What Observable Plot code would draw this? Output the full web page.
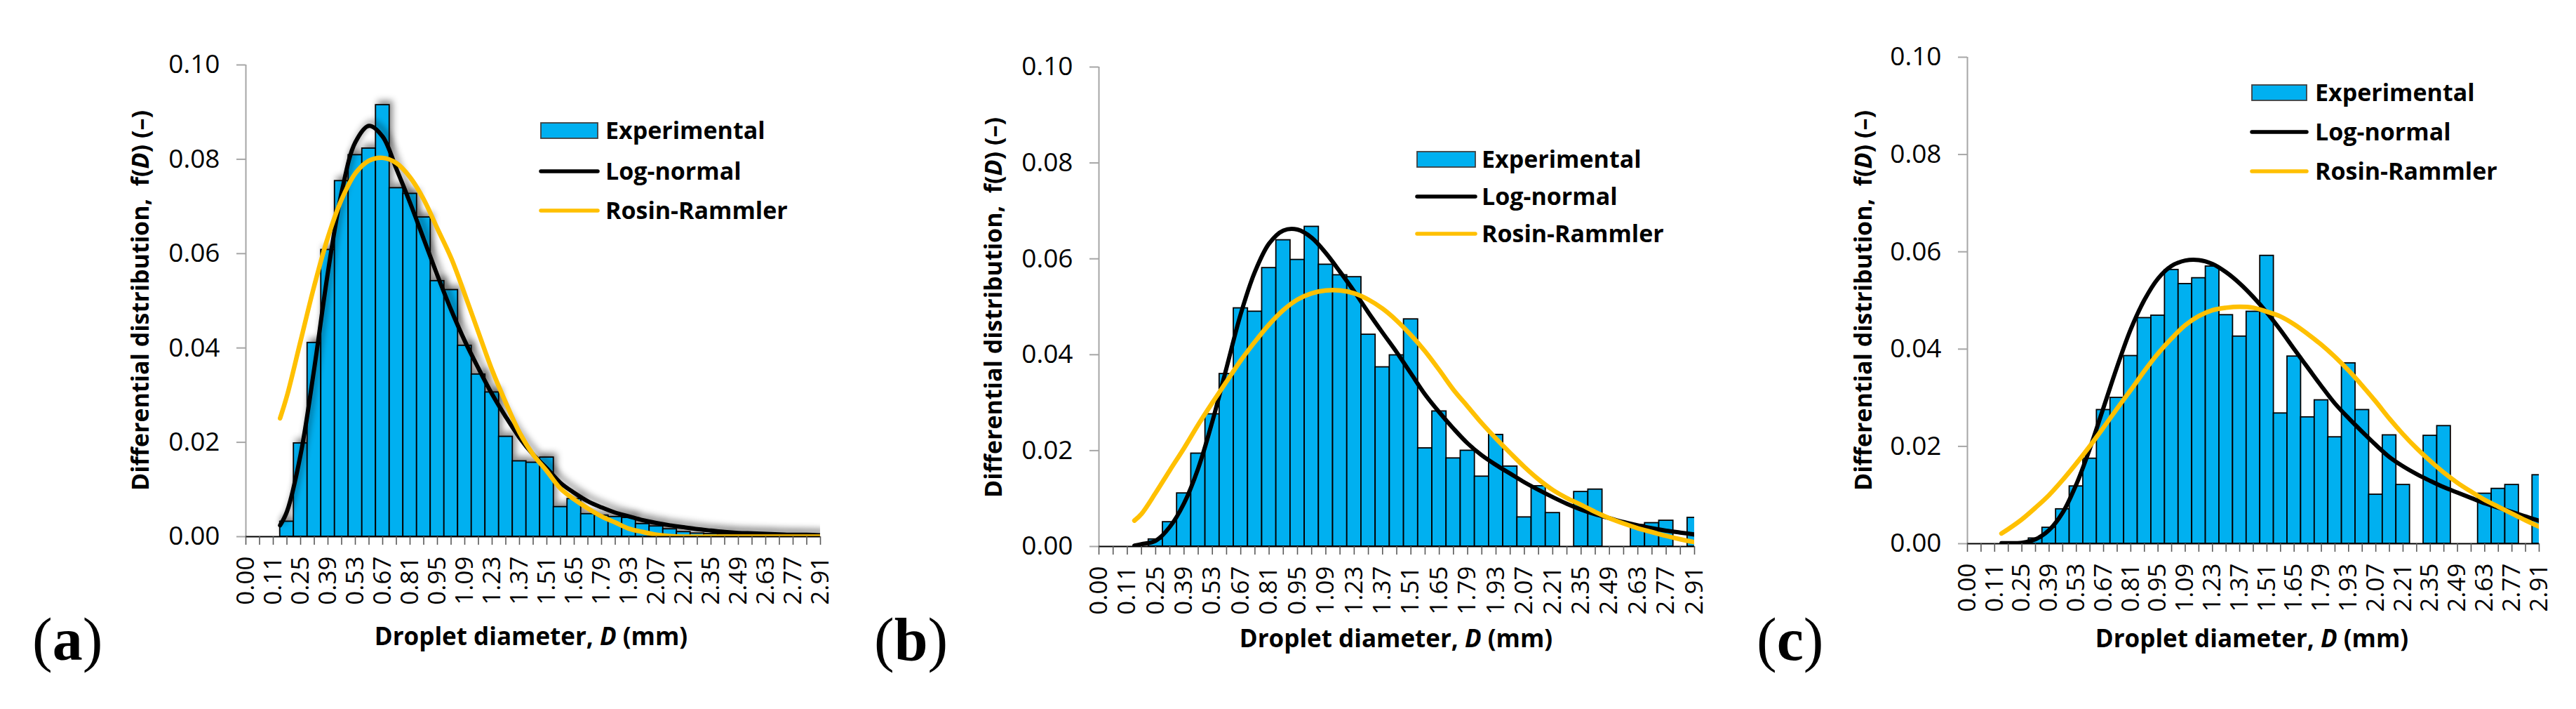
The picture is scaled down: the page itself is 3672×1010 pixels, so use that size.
<!DOCTYPE html>
<html>
<head>
<meta charset="utf-8">
<script src="https://cdn.jsdelivr.net/npm/d3@7"></script>
<script src="https://cdn.jsdelivr.net/npm/@observablehq/plot@0.6"></script>
<style>
html,body{margin:0;padding:0;background:#fff;}
#fig{position:relative;width:3672px;height:1010px;overflow:hidden;background:#fff;}
#fig > svg{position:absolute;top:0;}
</style>
</head>
<body>
<div id="fig"></div>
<script>
// ---------- data ----------
const categories = ["0.00","0.04","0.11","0.18","0.25","0.32","0.39","0.46","0.53","0.60","0.67","0.74","0.81","0.88","0.95","1.02","1.09","1.16","1.23","1.30","1.37","1.44","1.51","1.58","1.65","1.72","1.79","1.86","1.93","2.00","2.07","2.14","2.21","2.28","2.35","2.42","2.49","2.56","2.63","2.70","2.77","2.84","2.91"];
const yTicks = [0, 0.02, 0.04, 0.06, 0.08, 0.10];
const seriesNames = ["Experimental", "Log-normal", "Rosin-Rammler"];
const panelLetters = ["a", "b", "c"];

// Experimental differential distribution (one value per category)
const expA = [0,0,0,0.0032,0.0198,0.0411,0.0608,0.0754,0.0809,0.0823,0.0915,0.0739,0.0727,0.0677,0.0542,0.0523,0.0405,0.0344,0.0306,0.0212,0.0160,0.0157,0.0168,0.0063,0.0080,0.0048,0.0045,0.0042,0.0040,0.0027,0.0022,0.0016,0.0010,0.0007,0.0006,0.0005,0.0004,0.0003,0.0003,0.0002,0.0002,0.0001,0.0001];
const expB = [0,0,0,0,0.0015,0.0051,0.0111,0.0194,0.0276,0.0360,0.0497,0.0490,0.0581,0.0639,0.0598,0.0667,0.0588,0.0566,0.0562,0.0442,0.0374,0.0399,0.0474,0.0205,0.0282,0.0184,0.0200,0.0146,0.0233,0.0167,0.0061,0.0126,0.0070,0,0.0114,0.0119,0,0,0.0045,0.0049,0.0054,0,0.0060];
const expC = [0,0,0,0,0,0.0011,0.0033,0.0071,0.0118,0.0175,0.0275,0.0300,0.0386,0.0464,0.0469,0.0563,0.0534,0.0546,0.0570,0.0470,0.0426,0.0477,0.0592,0.0268,0.0385,0.0260,0.0295,0.0219,0.0371,0.0275,0.0101,0.0223,0.0121,0,0.0222,0.0242,0,0,0.0103,0.0113,0.0121,0,0.0141];

// Fitted curves: first value at the curve start (half a category after 0.11), then one value per category from 0.18 to 2.91
const curveStart = 2.5;
const lnA = [0.0024,0.0053,0.0174,0.0357,0.0561,0.0730,0.0836,0.0871,0.0848,0.0780,0.0708,0.0631,0.0554,0.0481,0.0415,0.0357,0.0302,0.0254,0.0210,0.0174,0.0145,0.0114,0.0093,0.0075,0.0062,0.0051,0.0043,0.0035,0.0029,0.0024,0.0020,0.0016,0.0013,0.0010,0.0008,0.0007,0.0006,0.0005,0.0004,0.0004,0.0003];
const rrA = [0.0251,0.0298,0.0415,0.0532,0.0635,0.0715,0.0770,0.0797,0.0803,0.0792,0.0762,0.0715,0.0653,0.0591,0.0514,0.0433,0.0353,0.0284,0.0221,0.0174,0.0139,0.0102,0.0079,0.0060,0.0043,0.0030,0.0017,0.0010,0.0004,0.0001,0,0,0,0,0,0,0,0,0,0,0];
const lnB = [0.0002,0.0005,0.0012,0.0041,0.0090,0.0163,0.0261,0.0373,0.0485,0.0573,0.0632,0.0659,0.0661,0.0644,0.0612,0.0573,0.0532,0.0488,0.0446,0.0405,0.0361,0.0317,0.0280,0.0246,0.0215,0.0190,0.0170,0.0152,0.0134,0.0118,0.0103,0.0089,0.0077,0.0067,0.0059,0.0051,0.0044,0.0038,0.0033,0.0029,0.0025];
const rrB = [0.0054,0.0068,0.0112,0.0159,0.0205,0.0254,0.0300,0.0344,0.0388,0.0427,0.0463,0.0493,0.0515,0.0528,0.0534,0.0534,0.0528,0.0515,0.0496,0.0471,0.0441,0.0407,0.0368,0.0327,0.0292,0.0257,0.0225,0.0195,0.0166,0.0140,0.0118,0.0101,0.0087,0.0072,0.0059,0.0048,0.0038,0.0030,0.0022,0.0015,0.0009];
const lnC = [0.0001,0.0001,0.0002,0.0009,0.0028,0.0064,0.0122,0.0196,0.0280,0.0364,0.0441,0.0501,0.0545,0.0571,0.0582,0.0583,0.0575,0.0558,0.0535,0.0507,0.0475,0.0439,0.0400,0.0362,0.0324,0.0288,0.0258,0.0230,0.0203,0.0178,0.0159,0.0143,0.0129,0.0116,0.0105,0.0094,0.0083,0.0074,0.0065,0.0056,0.0047];
const rrC = [0.0021,0.0030,0.0050,0.0074,0.0100,0.0131,0.0165,0.0201,0.0239,0.0278,0.0316,0.0355,0.0391,0.0422,0.0449,0.0468,0.0480,0.0485,0.0487,0.0485,0.0477,0.0467,0.0451,0.0431,0.0409,0.0384,0.0356,0.0325,0.0292,0.0257,0.0225,0.0196,0.0170,0.0146,0.0125,0.0107,0.0090,0.0076,0.0062,0.0048,0.0035];

// ---------- style ----------
const BLUE = "#00B0F0", GOLD = "#FFC000", AXISGRAY = "#A6A6A6";
const FONT = "'Open Sans', Lato, sans-serif";
const SERIF = "'Liberation Serif', 'DejaVu Serif', serif";
const labelIdx = categories.map((c, i) => i).filter(i => i % 2 === 0);
const curvePts = vals => vals.map((v, k) => ({i: k === 0 ? curveStart : k + 2, v}));

const fig = document.getElementById("fig");

function makePanel(cfg) {
  const bars = cfg.exp.map((v, i) => ({i, v})).filter(d => d.v > 0);
  const svg = Plot.plot({
    width: cfg.width, height: 1010,
    marginLeft: cfg.mL, marginRight: cfg.mR, marginTop: cfg.mT, marginBottom: cfg.mB,
    style: {fontFamily: FONT, background: "transparent", color: "black", overflow: "visible"},
    x: {domain: [0, categories.length - 1], axis: null},
    y: {domain: [0, 0.1], axis: null},
    marks: [
      Plot.rect(bars, {x1: d => d.i - 0.5, x2: d => d.i + 0.5, y1: 0, y2: "v", fill: BLUE, stroke: "black", strokeWidth: 1.8, clip: true}),
      Plot.line(curvePts(cfg.ln), {x: "i", y: "v", stroke: "black", strokeWidth: 6, curve: "catmull-rom", clip: true}),
      Plot.line(curvePts(cfg.rr), {x: "i", y: "v", stroke: GOLD, strokeWidth: 6.5, curve: "catmull-rom", clip: true}),
      Plot.ruleX([0], {stroke: AXISGRAY, strokeWidth: 2}),
      Plot.ruleY([0], {stroke: "black", strokeWidth: 1.8}),
      Plot.axisY({ticks: yTicks, tickFormat: d3.format(".2f"), tickSize: 13, tickPadding: 24, fontSize: 37, stroke: AXISGRAY, strokeWidth: 2, fill: "black", label: null}),
      Plot.axisX({ticks: d3.range(categories.length), tickFormat: () => "", tickSize: 12, stroke: "#595959", strokeWidth: 1.6, label: null}),
      Plot.axisX({ticks: labelIdx, tickFormat: i => categories[i], tickSize: 0, tickRotate: -90, tickPadding: 28, fontSize: 35, fill: "black", label: null})
    ]
  });
  svg.style.left = cfg.left + "px";
  fig.appendChild(svg);
  if (cfg.shadow) {
    const s = d3.select(svg);
    const id = "shadow-" + cfg.letter;
    s.insert("defs", ":first-child").append("filter").attr("id", id)
      .attr("x", "-10%").attr("y", "-10%").attr("width", "130%").attr("height", "130%")
      .append("feDropShadow").attr("dx", 4).attr("dy", -5).attr("stdDeviation", 5)
      .attr("flood-color", "#000").attr("flood-opacity", 0.45);
    s.select('g[aria-label="rect"]').attr("filter", `url(#${id})`);
    s.select('g[aria-label="line"]').attr("filter", `url(#${id})`);
  }
}

const panels = [
  {letter: "a", exp: expA, ln: lnA, rr: rrA, left: 0,    width: 1220, mL: 350, mR: 51, mT: 92, mB: 246, shadow: true,
   legend: {x0: 771, x1: 852, tx: 863, rows: [186, 244, 300]}, yt: {x: 212, y: 428}, xt: {x: 757, y: 919}, pl: {x: 46, y: 940}},
  {letter: "b", exp: expB, ln: lnB, rr: rrB, left: 1220, width: 1230, mL: 346, mR: 35, mT: 95, mB: 232, shadow: false,
   legend: {x0: 2020, x1: 2103, tx: 2112, rows: [227, 280, 333]}, yt: {x: 1428, y: 438}, xt: {x: 1990, y: 922}, pl: {x: 1246, y: 940}},
  {letter: "c", exp: expC, ln: lnC, rr: rrC, left: 2450, width: 1222, mL: 354, mR: 53, mT: 81, mB: 236, shadow: false,
   legend: {x0: 3210, x1: 3288, tx: 3300, rows: [132, 188, 244]}, yt: {x: 2668, y: 428}, xt: {x: 3210, y: 922}, pl: {x: 2504, y: 940}}
];
panels.forEach(makePanel);

// ---------- overlay: legends, axis titles, panel letters ----------
const ov = d3.select(fig).append("svg").attr("width", 3672).attr("height", 1010).style("left", "0px");
panels.forEach(p => {
  const L = p.legend;
  const g = ov.append("g").attr("font-family", FONT).attr("font-weight", "bold").attr("font-size", 34);
  g.append("rect").attr("x", L.x0).attr("y", L.rows[0] - 11).attr("width", L.x1 - L.x0).attr("height", 22)
    .attr("fill", BLUE).attr("stroke", "#404040").attr("stroke-width", 1.8);
  g.append("line").attr("x1", L.x0).attr("x2", L.x1).attr("y1", L.rows[1]).attr("y2", L.rows[1])
    .attr("stroke", "black").attr("stroke-width", 5.5).attr("stroke-linecap", "round");
  g.append("line").attr("x1", L.x0).attr("x2", L.x1).attr("y1", L.rows[2]).attr("y2", L.rows[2])
    .attr("stroke", GOLD).attr("stroke-width", 5.5).attr("stroke-linecap", "round");
  seriesNames.forEach((n, k) => g.append("text").attr("x", L.tx).attr("y", L.rows[k]).attr("dy", "0.36em").text(n));

  // y title
  const yt = ov.append("text").attr("font-family", FONT).attr("font-weight", "bold").attr("font-size", 34)
    .attr("text-anchor", "middle").attr("transform", `translate(${p.yt.x},${p.yt.y}) rotate(-90)`)
    .attr("xml:space", "preserve").style("white-space", "pre");
  yt.append("tspan").text("Differential distribution,  f(");
  yt.append("tspan").attr("font-style", "italic").text("D");
  yt.append("tspan").text(") (–)");

  // x title
  const xt = ov.append("text").attr("font-family", FONT).attr("font-weight", "bold").attr("font-size", 35)
    .attr("text-anchor", "middle").attr("x", p.xt.x).attr("y", p.xt.y);
  xt.append("tspan").text("Droplet diameter, ");
  xt.append("tspan").attr("font-style", "italic").text("D");
  xt.append("tspan").text(" (mm)");

  // panel letter
  const pl = ov.append("text").attr("font-family", SERIF).attr("font-size", 86).attr("x", p.pl.x).attr("y", p.pl.y);
  pl.append("tspan").text("(");
  pl.append("tspan").attr("font-weight", "bold").text(p.letter);
  pl.append("tspan").text(")");
});
</script>
</body>
</html>
